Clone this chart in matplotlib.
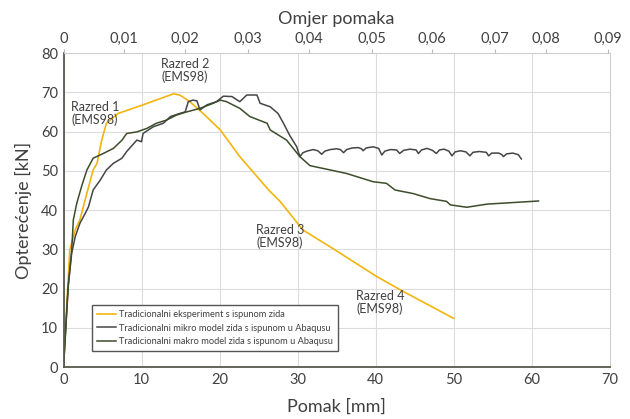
import matplotlib.pyplot as plt

plt.rcParams['font.family'] = ['Lato', 'DejaVu Sans']

# eksperiment (zuta)
exp_mm = [0, 0.8, 1.5, 2.1, 3.0, 3.8, 4.3, 4.9, 5.5, 7.0, 10.2, 14.1, 14.9, 16.2, 17.9,
          20.1, 22.6, 26.3, 27.8, 30.7, 34.2, 40.2, 43.6, 50.0]
exp_kn = [0, 29.8, 34.9, 37.5, 44.3, 50.2, 51.9, 57.8, 62.1, 64.6, 66.8, 69.6, 69.3, 67.6, 64.6,
          60.4, 53.6, 45.1, 42.1, 34.9, 30.6, 23.0, 19.2, 12.4]

# mikro model (siva)
mikro_mm = [0, 0.6, 1.05, 1.5, 2.1, 2.8, 3.2, 3.8, 4.7, 5.5, 6.4, 7.5, 8.1, 9.4, 10.0, 10.2,
            11.5, 12.8, 13.7, 14.9, 15.6, 16.0, 16.6, 17.1, 17.5, 18.4, 19.6, 20.5, 21.6, 22.6,
            23.5, 24.8, 25.2, 26.5, 27.5, 28.2, 29.0, 29.9, 30.3, 30.7, 31.2, 32.0, 32.6, 33.1,
            33.5, 34.2, 35.0, 35.5, 35.9, 36.3, 37.0, 37.8, 38.2, 38.4, 38.8, 39.7, 40.4, 40.8,
            41.2, 41.9, 42.7, 43.1, 43.6, 44.4, 45.2, 45.5, 45.9, 46.6, 47.3, 47.8, 48.2, 48.8,
            49.4, 49.8, 50.2, 50.9, 51.6, 52.1, 52.5, 53.3, 54.2, 54.5, 54.9, 55.8, 56.2, 56.4,
            56.8, 57.6, 58.3, 58.7]
mikro_kn = [0, 20.5, 29.0, 33.2, 36.6, 39.2, 40.8, 45.1, 47.6, 50.2, 51.9, 53.2, 54.9, 57.8, 57.4, 59.5,
            61.2, 62.1, 63.8, 64.6, 65.0, 67.6, 68.0, 67.8, 65.5, 66.8, 67.6, 69.0, 68.9, 67.6,
            69.3, 69.3, 67.2, 66.3, 64.6, 62.1, 59.0, 56.1, 53.6, 54.6, 55.0, 55.4, 55.1, 54.2,
            55.0, 55.4, 55.6, 55.4, 54.6, 55.4, 55.8, 55.9, 55.6, 55.1, 55.8, 56.1, 55.7, 54.0,
            55.0, 55.4, 55.3, 54.4, 55.2, 55.5, 55.3, 54.4, 55.3, 55.7, 55.2, 54.4, 55.3, 55.5,
            55.0, 53.8, 54.8, 55.1, 54.8, 53.8, 54.7, 54.9, 54.7, 53.8, 54.5, 54.5, 54.1, 53.6,
            54.3, 54.5, 54.1, 53.0]

# makro model (tamno zelena)
makro_mm = [0, 0.6, 1.05, 1.26, 1.7, 2.3, 3.0, 3.8, 5.1, 6.4, 7.5, 8.1, 9.4, 10.7, 11.9, 13.2,
            14.5, 15.8, 17.5, 19.2, 20.1, 20.9, 22.6, 23.9, 26.1, 26.5, 28.6, 30.3, 31.6, 34.2,
            36.3, 39.7, 41.4, 42.5, 44.8, 47.0, 49.1, 49.6, 51.7, 54.3, 58.5, 60.9]
makro_kn = [0, 20.5, 29.8, 37.5, 41.7, 45.9, 50.2, 53.2, 54.4, 55.7, 57.8, 59.5, 59.9, 60.8, 62.1, 62.9,
            64.2, 65.0, 65.9, 67.2, 68.0, 67.6, 65.9, 63.8, 62.1, 60.4, 57.8, 53.6, 51.3, 50.2,
            49.3, 47.2, 46.8, 45.1, 44.2, 42.9, 42.2, 41.3, 40.7, 41.5, 42.0, 42.3]

labels = ['Tradicionalni eksperiment s ispunom zida',
          'Tradicionalni mikro model zida s ispunom u Abaqusu',
          'Tradicionalni makro model zida s ispunom u Abaqusu']

razredi = ['Razred 1\n(EMS98)', 'Razred 2\n(EMS98)', 'Razred 3\n(EMS98)', 'Razred 4\n(EMS98)']
razred_mm = [1.0, 12.5, 24.7, 37.5]
razred_kn = [67.8, 78.8, 36.4, 19.6]

top_labels = ['0', '0,01', '0,02', '0,03', '0,04', '0,05', '0,06', '0,07', '0,08', '0,09']
top_mm = [0, 7.8, 15.6, 23.7, 31.5, 39.6, 47.2, 55.3, 61.9, 69.8]

txt = '#404040'

fig = plt.figure(figsize=(6.3, 4.19), dpi=100)
ax = fig.add_axes([0.1008, 0.1241, 0.8667, 0.7494])

ax.plot(exp_mm, exp_kn, color='#f2b50f', lw=1.2, label=labels[0])
ax.plot(mikro_mm, mikro_kn, color='#454545', lw=1.1, label=labels[1])
ax.plot(makro_mm, makro_kn, color='#3c4d2b', lw=1.1, label=labels[2])

for t, x, y in zip(razredi, razred_mm, razred_kn):
    ax.text(x, y, t, fontsize=9, color=txt, va='top', ha='left', linespacing=1.05)

ax.set_xlim(0, 70)
ax.set_ylim(0, 80)
ax.set_xticks(range(0, 71, 10))
ax.set_yticks(range(0, 81, 10))
ax.grid(True, color='#dcdcdc', lw=0.8)
ax.set_axisbelow(True)
ax.tick_params(length=0, labelsize=10.5, labelcolor=txt, pad=4)
for s in ['left', 'bottom']:
    ax.spines[s].set_color('#555a4a')
    ax.spines[s].set_linewidth(1.3)
for s in ['top', 'right']:
    ax.spines[s].set_color('#cfcfcf')
    ax.spines[s].set_linewidth(0.8)
ax.set_xlabel('Pomak [mm]', fontsize=13, color=txt, labelpad=9)
ax.set_ylabel('Opterećenje [kN]', fontsize=13, color=txt, labelpad=6)

ax2 = ax.twiny()
ax2.set_xlim(0, 70)
ax2.set_xticks(top_mm)
ax2.set_xticklabels(top_labels)
ax2.tick_params(length=3, color='#bbbbbb', labelsize=10.5, labelcolor=txt, pad=2)
for s in ax2.spines.values():
    s.set_visible(False)
ax2.set_xlabel('Omjer pomaka', fontsize=13, color=txt, labelpad=6)

leg = ax.legend(loc='lower left', bbox_to_anchor=(0.043, 0.035), fontsize=6.7,
                handlelength=2.0, handletextpad=0.3, labelspacing=0.45,
                borderpad=0.6, fancybox=False, framealpha=1, edgecolor='#555555')
leg.get_frame().set_linewidth(1.0)
for t in leg.get_texts():
    t.set_color(txt)

fig.savefig('out.png', dpi=100)
